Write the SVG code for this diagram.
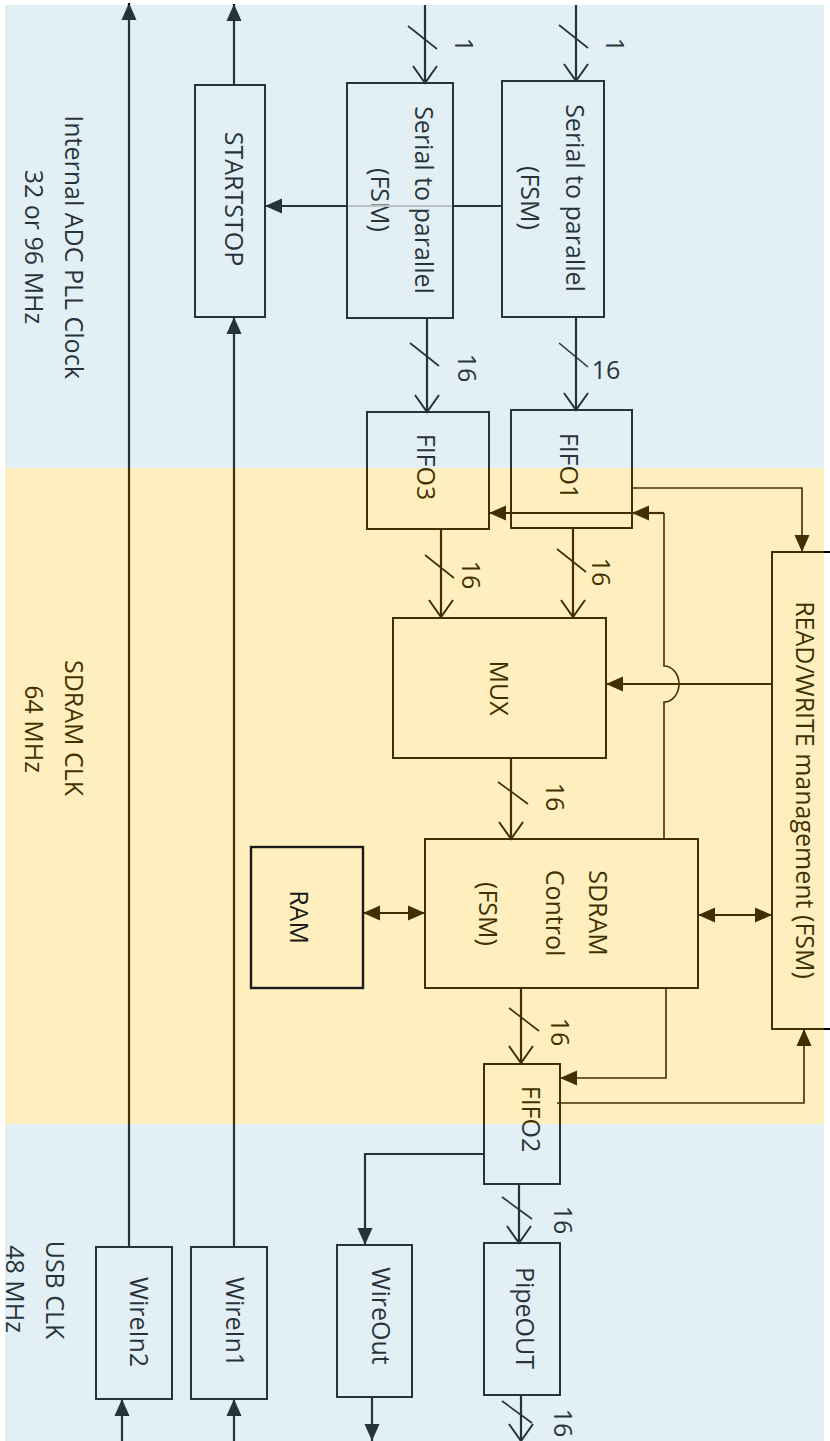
<svg xmlns="http://www.w3.org/2000/svg" width="830" height="1441" viewBox="0 0 830 1441">
<style>
.bx{fill:none;stroke:#000;stroke-width:2}
.t{font-family:"Open Sans","Noto Sans",sans-serif;font-size:25px;fill:#000;text-anchor:middle;dominant-baseline:central}
.w{stroke:#000;stroke-width:2.2;fill:none}
.thin{stroke:#000;stroke-width:1.6;fill:none}
.sl{stroke:#000;stroke-width:1.6}
.fa{marker-end:url(#fill)}
.oa{marker-end:url(#open)}
.da{marker-start:url(#fill);marker-end:url(#fill)}
</style>
<defs>
<marker id="fill" markerUnits="userSpaceOnUse" viewBox="-18 -9 19 18" refX="0" refY="0" markerWidth="19" markerHeight="18" orient="auto-start-reverse">
<path d="M0,0 L-17,-7.5 L-17,7.5 Z" fill="#000"/>
</marker>
<marker id="open" markerUnits="userSpaceOnUse" viewBox="-20 -14 22 28" refX="0" refY="0" markerWidth="22" markerHeight="28" orient="auto">
<path d="M-17,-12 L0,0 L-17,12" fill="none" stroke="#000" stroke-width="2"/>
</marker>
</defs>
<rect x="0" y="0" width="830" height="1441" fill="#fff"/>

<g id="domain-labels">
<text class="t" transform="translate(75,247) rotate(90)">Internal ADC PLL Clock</text>
<text class="t" transform="translate(35,247) rotate(90)">32 or 96 MHz</text>
<text class="t" transform="translate(75,728) rotate(90)">SDRAM CLK</text>
<text class="t" transform="translate(35,729) rotate(90)">64 MHz</text>
<text class="t" transform="translate(56,1290) rotate(90)">USB CLK</text>
<text class="t" transform="translate(16,1289) rotate(90)">48 MHz</text>
</g>

<g id="connectors">
<path class="w oa" d="M425,5 V83"/>
<line class="sl" x1="408" y1="26" x2="437" y2="49"/>
<text class="t" transform="translate(465,45) rotate(90)">1</text>
<path class="w oa" d="M576,5 V81"/>
<line class="sl" x1="559" y1="25" x2="588" y2="48"/>
<text class="t" transform="translate(616,45) rotate(90)">1</text>
<path class="w oa" d="M427,318 V412"/>
<line class="sl" x1="410" y1="343" x2="439" y2="366"/>
<text class="t" transform="translate(468,368) rotate(90)">16</text>
<path class="w oa" d="M576,317 V410"/>
<line class="sl" x1="559" y1="343" x2="588" y2="367"/>
<text class="t" x="606" y="369">16</text>
<path class="w fa" d="M502,206 H265"/>
<path class="w fa" d="M234,85 V4"/>
<path class="w fa" d="M234,1247 V317"/>
<path class="w fa" d="M129,1247 V3"/>
<path class="w fa" d="M122,1441 V1399"/>
<path class="w fa" d="M234,1441 V1399"/>
<path class="w oa" d="M441,529 V617"/>
<line class="sl" x1="425" y1="555" x2="454" y2="578"/>
<text class="t" transform="translate(472,575) rotate(90)">16</text>
<path class="w oa" d="M573,528 V617"/>
<line class="sl" x1="557" y1="549" x2="586" y2="572"/>
<text class="t" transform="translate(602,572) rotate(90)">16</text>
<path class="thin fa" d="M632,488 H802 V552"/>
<path class="thin" d="M664,839 V702 A15,18 0 0 0 664,666 V513"/>
<path class="w fa" d="M664,513 H632"/>
<path class="w fa" d="M632,513 H489"/>
<path class="w fa" d="M773,684 H606"/>
<path class="w oa" d="M511,758 V839"/>
<line class="sl" x1="498" y1="782" x2="528" y2="804"/>
<text class="t" transform="translate(556,797) rotate(90)">16</text>
<path class="w da" d="M363,913 H425"/>
<path class="w da" d="M698,915 H772"/>
<path class="w oa" d="M521,988 V1063"/>
<line class="sl" x1="509" y1="1008" x2="539" y2="1031"/>
<text class="t" transform="translate(561,1032) rotate(90)">16</text>
<path class="thin fa" d="M666,988 V1078 H560"/>
<path class="thin fa" d="M557,1103 H804 V1029"/>
<path class="w fa" d="M484,1154 H365 V1245"/>
<path class="w oa" d="M519,1184 V1243"/>
<line class="sl" x1="502" y1="1197" x2="532" y2="1219"/>
<text class="t" transform="translate(564,1220) rotate(90)">16</text>
<path class="w oa" d="M521,1395 V1441"/>
<line class="sl" x1="502" y1="1401" x2="532" y2="1423"/>
<text class="t" transform="translate(564,1423) rotate(90)">16</text>
<path class="w fa" d="M372,1397 V1441"/>
</g>

<g id="serial1">
<rect class="bx" x="347" y="83" width="106" height="235"/>
<text class="t" transform="translate(425,200) rotate(90)">Serial to parallel</text>
<text class="t" transform="translate(381,200) rotate(90)">(FSM)</text>
</g>
<g id="serial2">
<rect class="bx" x="502" y="81" width="102" height="236"/>
<text class="t" transform="translate(576,198) rotate(90)">Serial to parallel</text>
<text class="t" transform="translate(531,198) rotate(90)">(FSM)</text>
</g>
<g id="startstop">
<rect class="bx" x="195" y="85" width="70" height="232"/>
<text class="t" transform="translate(235,199) rotate(90)">STARTSTOP</text>
</g>
<g id="fifo3">
<rect class="bx" x="367" y="412" width="122" height="117"/>
<text class="t" transform="translate(427,467) rotate(90)">FIFO3</text>
</g>
<g id="fifo1">
<rect class="bx" x="511" y="410" width="121" height="118"/>
<text class="t" transform="translate(570,466) rotate(90)">FIFO1</text>
</g>
<g id="mux">
<rect class="bx" x="393" y="618" width="213" height="140"/>
<text class="t" transform="translate(500,688) rotate(90)">MUX</text>
</g>
<g id="sdram">
<rect class="bx" x="425" y="839" width="273" height="149"/>
<text class="t" transform="translate(599,913) rotate(90)">SDRAM</text>
<text class="t" transform="translate(556,913) rotate(90)">Control</text>
<text class="t" transform="translate(489,914) rotate(90)">(FSM)</text>
</g>
<g id="rw">
<rect class="bx" x="772" y="552" width="70" height="477"/>
<text class="t" transform="translate(806,790) rotate(90)">READ/WRITE management (FSM)</text>
</g>
<g id="fifo2">
<rect class="bx" x="484" y="1064" width="76" height="120"/>
<text class="t" transform="translate(532,1119) rotate(90)">FIFO2</text>
</g>
<g id="pipeout">
<rect class="bx" x="484" y="1243" width="76" height="152"/>
<text class="t" transform="translate(526,1318) rotate(90)">PipeOUT</text>
</g>
<g id="wireout">
<rect class="bx" x="337" y="1245" width="75" height="152"/>
<text class="t" transform="translate(382,1316) rotate(90)">WireOut</text>
</g>
<g id="wirein1">
<rect class="bx" x="191" y="1247" width="76" height="152"/>
<text class="t" transform="translate(236,1322) rotate(90)">WireIn1</text>
</g>
<g id="wirein2">
<rect class="bx" x="96" y="1247" width="76" height="152"/>
<text class="t" transform="translate(140,1322) rotate(90)">WireIn2</text>
</g>

<g id="clock-domains">
<rect x="5" y="5" width="819" height="463" fill="#90c2d9" fill-opacity="0.263"/>
<rect x="5" y="468" width="819" height="656" fill="#ffc000" fill-opacity="0.25"/>
<rect x="5" y="1124" width="819" height="317" fill="#90c2d9" fill-opacity="0.263"/>
</g>

<line x1="348" y1="206" x2="452" y2="206" stroke="#bcc1c3" stroke-width="2"/>

<g id="ram">
<rect x="251" y="847" width="112" height="141" fill="none" stroke="#1a1a1a" stroke-width="2.4"/>
<text class="t" style="fill:#1a1a1a" transform="translate(300,917) rotate(90)">RAM</text>
</g>
</svg>
